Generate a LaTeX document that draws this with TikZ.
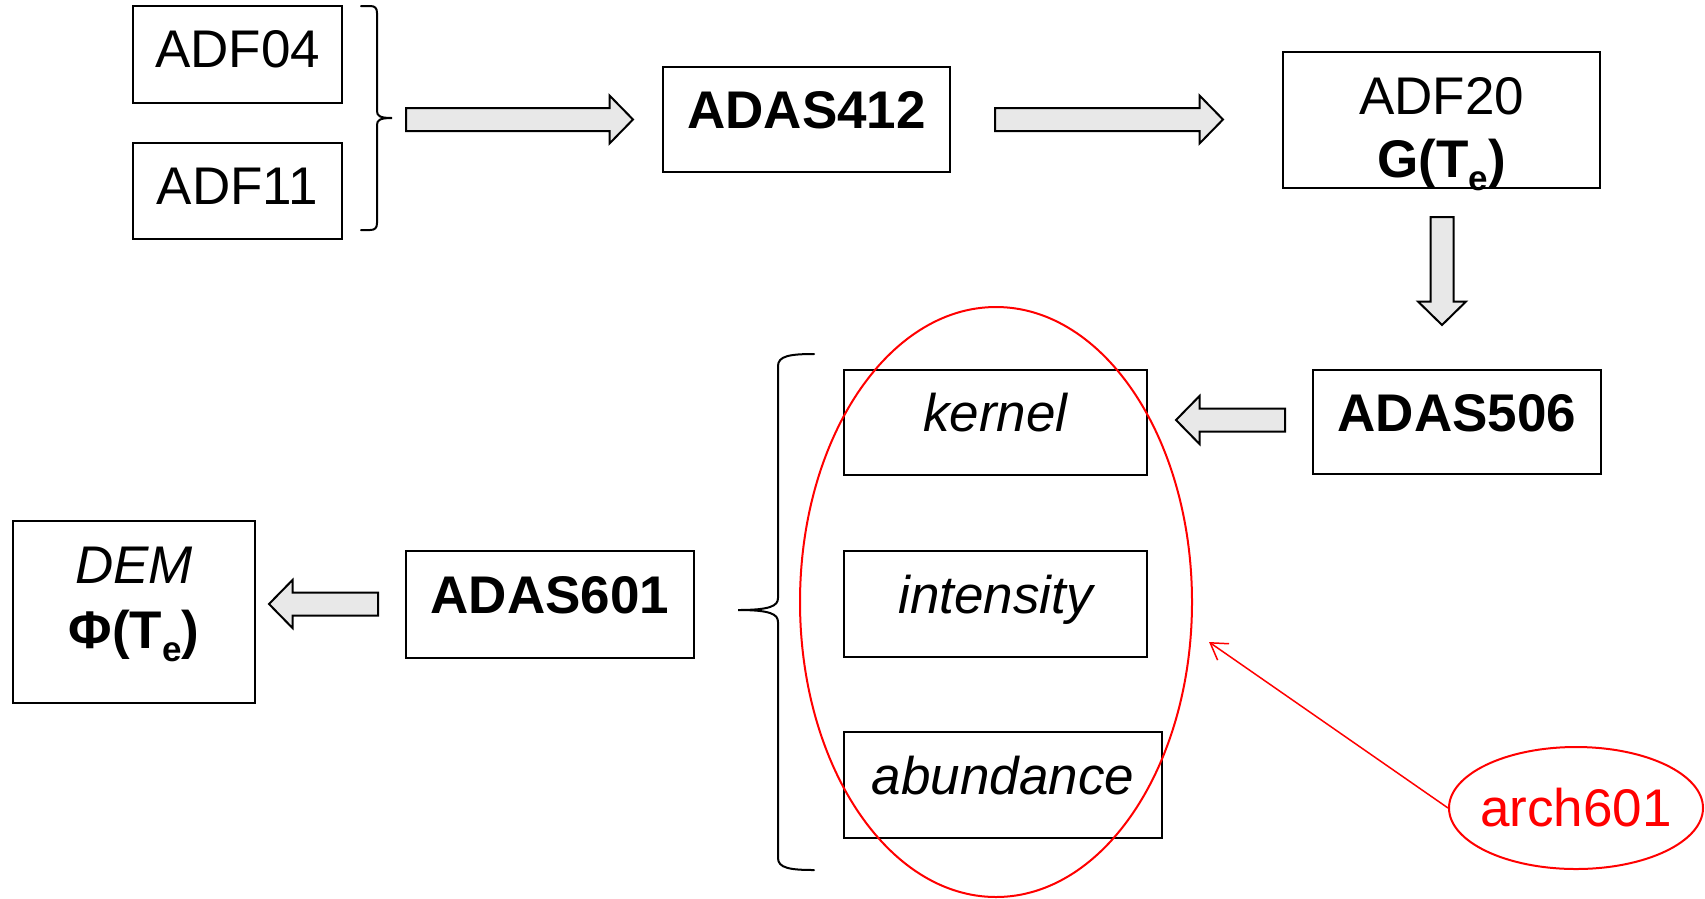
\documentclass[tikz,border=0pt]{standalone}
\usepackage{fontspec}
\setmainfont{Liberation Sans}
\usetikzlibrary{calc,shapes.geometric,arrows.meta}
\definecolor{arrowgray}{HTML}{E8E8E8}
\definecolor{markred}{HTML}{FF0000}

% lowered subscript used in G(T_e) and Phi(T_e)
\newcommand\lowsub[1]{\raisebox{-13pt}{\fontsize{35}{35}\selectfont #1}}

% wide block arrow from #1 to #2 (tip at #2)
\newcommand\blockarrow[2]{%
  \coordinate (hb) at ($(#2)!23.5pt!(#1)$);
  \filldraw[blockarrow]
    ($(#1)!11.5pt!90:(#2)$) -- ($(hb)!11.5pt!90:(#2)$) -- ($(hb)!24pt!90:(#2)$)
    -- (#2)
    -- ($(hb)!24pt!-90:(#2)$) -- ($(hb)!11.5pt!-90:(#2)$) -- ($(#1)!11.5pt!-90:(#2)$)
    -- cycle;}

\begin{document}
\begin{tikzpicture}[x=1pt,y=-1pt,
  box/.style={draw=black, line width=2pt, inner sep=0pt},
  lbl/.style={font=\fontsize{53}{64}\selectfont},
  boldlbl/.style={font=\fontsize{53}{64}\selectfont\bfseries},
  itlbl/.style={font=\fontsize{53}{64}\selectfont\itshape},
  oneline/.style={text height=40pt, text depth=22pt},
  adfline/.style={text height=40pt, text depth=14pt},
  blockarrow/.style={draw=black, line width=2pt, fill=arrowgray, line join=miter},
  brace/.style={draw=black, line width=2pt, line cap=round},
  redring/.style={draw=markred, line width=2pt, shape=ellipse, inner sep=0pt},
  redline/.style={draw=markred, line width=1.5pt}]

\useasboundingbox (0,0) rectangle (1705,898);

% input data files
\node[box, lbl, adfline, minimum width=209pt, minimum height=97pt] (adf04) at (237.5,54.5) {ADF04};
\node[box, lbl, adfline, minimum width=209pt, minimum height=96pt] (adf11) at (237.5,191) {ADF11};

% programs and outputs
\node[box, boldlbl, oneline, minimum width=287pt, minimum height=105pt] (adas412) at (806.5,119.5) {ADAS412};

\node[box, minimum width=317pt, minimum height=136pt] (adf20) at (1441.5,120) {};
\node[lbl, anchor=base, inner sep=0pt] (adf20name) at (1441.5,114) {ADF20};
\node[boldlbl, anchor=base, inner sep=0pt] (adf20g) at (1441.5,177) {G(T\lowsub{e})};

\node[box, boldlbl, oneline, minimum width=288pt, minimum height=104pt] (adas506) at (1457,422) {ADAS506};

\node[box, itlbl, oneline, minimum width=303pt, minimum height=105pt] (kernel) at (995.5,422.5) {kernel};
\node[box, itlbl, oneline, minimum width=303pt, minimum height=106pt] (intensity) at (995.5,604) {intensity};
\node[box, itlbl, oneline, minimum width=318pt, minimum height=106pt] (abundance) at (1003,785) {abundance};

\node[box, boldlbl, oneline, minimum width=288pt, minimum height=107pt] (adas601) at (550,604.5) {ADAS601};

\node[box, minimum width=242pt, minimum height=182pt] (dem) at (134,612) {};
\node[itlbl, anchor=base, inner sep=0pt] (demname) at (134,583) {DEM};
\node[boldlbl, anchor=base, inner sep=0pt] (demphi) at (134,648) {Φ(T\lowsub{e})};

% braces grouping the inputs
\draw[brace] (361,6) -- (370,6) .. controls (375,6) and (377,8) .. (377,13)
  -- (377,111) .. controls (377,116) and (380,118) .. (392,118)
  .. controls (380,118) and (377,120) .. (377,125)
  -- (377,223) .. controls (377,228) and (375,230) .. (370,230) -- (361,230);

\draw[brace] (814,354) .. controls (790,354) and (778,356) .. (778,366)
  -- (778,598) .. controls (778,606) and (770,610) .. (738,610)
  .. controls (770,610) and (778,614) .. (778,622)
  -- (778,858) .. controls (778,868) and (790,870) .. (814,870);

% flow arrows
\coordinate (a1s) at (406,119.5);  \coordinate (a1t) at (633,119.5);
\coordinate (a2s) at (995,119.5);  \coordinate (a2t) at (1223,119.5);
\coordinate (a3s) at (1442,217);   \coordinate (a3t) at (1442,325);
\coordinate (a4s) at (1285,420);   \coordinate (a4t) at (1176,420);
\coordinate (a5s) at (378,604);    \coordinate (a5t) at (269,604);
\blockarrow{a1s}{a1t}
\blockarrow{a2s}{a2t}
\blockarrow{a3s}{a3t}
\blockarrow{a4s}{a4t}
\blockarrow{a5s}{a5t}

% archive grouping
\node[redring, minimum width=392pt, minimum height=590pt] (group) at (996,602) {};
\node[redring, lbl, text=markred, minimum width=254pt, minimum height=122pt] (arch) at (1576,808) {\makebox[0pt]{arch601}};
\coordinate (archtip) at (1209,642);
\draw[redline, -{Straight Barb[length=16pt,width=20pt,line width=1.5pt]}] (arch.west) -- (archtip);

\end{tikzpicture}
\end{document}
